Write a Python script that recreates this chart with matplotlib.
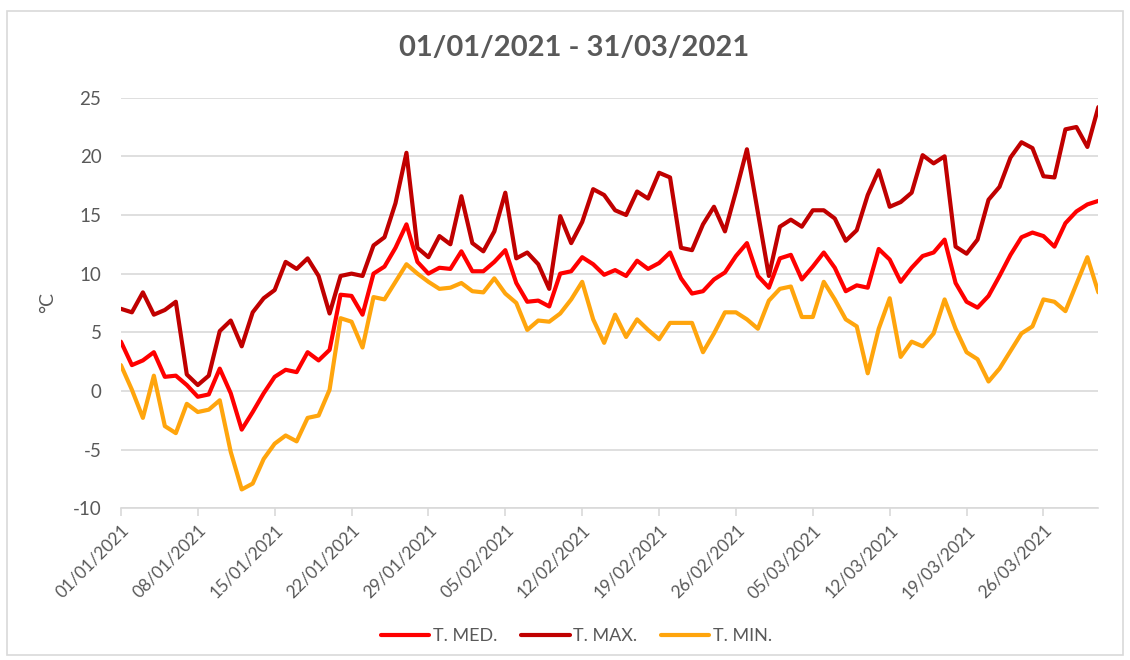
import numpy as np
import pandas as pd
import matplotlib
matplotlib.use("Agg")
import matplotlib.pyplot as plt
import matplotlib.dates as mdates
from matplotlib.patches import Rectangle

# daily temperatures, 01/01/2021 .. 31/03/2021
dates = pd.date_range("2021-01-01", "2021-03-31", freq="D")

t_med = [4.2, 2.2, 2.6, 3.3, 1.2, 1.3, 0.5, -0.5, -0.3, 1.9,
         -0.2, -3.3, -1.8, -0.2, 1.2, 1.8, 1.6, 3.3, 2.6, 3.5,
         8.2, 8.1, 6.5, 10.0, 10.6, 12.2, 14.2, 11.0, 10.0, 10.5,
         10.4, 11.9, 10.2, 10.2, 11.0, 12.0, 9.2, 7.6, 7.7, 7.2,
         10.0, 10.2, 11.4, 10.8, 9.9, 10.3, 9.8, 11.1, 10.4, 10.9,
         11.8, 9.6, 8.3, 8.5, 9.5, 10.1, 11.5, 12.6, 9.8, 8.8,
         11.3, 11.6, 9.5, 10.6, 11.8, 10.5, 8.5, 9.0, 8.8, 12.1,
         11.2, 9.3, 10.5, 11.5, 11.8, 12.9, 9.2, 7.6, 7.1, 8.1,
         9.8, 11.6, 13.1, 13.5, 13.2, 12.3, 14.3, 15.3, 15.9, 16.2]

t_max = [7.0, 6.7, 8.4, 6.5, 6.9, 7.6, 1.4, 0.5, 1.3, 5.1,
         6.0, 3.8, 6.7, 7.9, 8.6, 11.0, 10.4, 11.3, 9.8, 6.6,
         9.8, 10.0, 9.8, 12.4, 13.1, 16.0, 20.3, 12.2, 11.4, 13.2,
         12.5, 16.6, 12.6, 11.9, 13.6, 16.9, 11.3, 11.8, 10.8, 8.7,
         14.9, 12.6, 14.4, 17.2, 16.7, 15.4, 15.0, 17.0, 16.4, 18.6,
         18.2, 12.2, 12.0, 14.2, 15.7, 13.6, 17.0, 20.6, 15.2, 9.8,
         14.0, 14.6, 14.0, 15.4, 15.4, 14.7, 12.8, 13.7, 16.7, 18.8,
         15.7, 16.1, 16.9, 20.1, 19.4, 20.0, 12.3, 11.7, 12.9, 16.3,
         17.4, 19.9, 21.2, 20.7, 18.3, 18.2, 22.3, 22.5, 20.8, 24.2]

t_min = [2.2, 0.1, -2.3, 1.3, -3.0, -3.6, -1.1, -1.8, -1.6, -0.8,
         -5.2, -8.4, -7.9, -5.8, -4.5, -3.8, -4.3, -2.3, -2.1, 0.1,
         6.2, 5.9, 3.7, 8.0, 7.8, 9.3, 10.8, 10.0, 9.3, 8.7,
         8.8, 9.2, 8.5, 8.4, 9.6, 8.3, 7.5, 5.2, 6.0, 5.9,
         6.6, 7.8, 9.3, 6.1, 4.1, 6.5, 4.6, 6.1, 5.2, 4.4,
         5.8, 5.8, 5.8, 3.3, 4.9, 6.7, 6.7, 6.1, 5.3, 7.7,
         8.7, 8.9, 6.3, 6.3, 9.3, 7.8, 6.1, 5.5, 1.5, 5.3,
         7.9, 2.9, 4.2, 3.8, 4.9, 7.8, 5.3, 3.3, 2.7, 0.8,
         1.9, 3.4, 4.9, 5.5, 7.8, 7.6, 6.8, 9.1, 11.4, 8.4]

series = [("T. MED.", t_med, "#ff0000"),
          ("T. MAX.", t_max, "#c00000"),
          ("T. MIN.", t_min, "#ffa50d")]

plt.rcParams['font.family'] = ['Lato', 'DejaVu Sans']
plt.rcParams['axes.unicode_minus'] = False
grey = "#595959"

fig = plt.figure(figsize=(11.3, 6.6), dpi=100)
ax = fig.add_axes([0.107, 0.230, 0.865, 0.622])

for name, vals, col in series:
    ax.plot(dates, vals, color=col, lw=3, label=name,
            solid_joinstyle='round', solid_capstyle='round')

ax.set_xlim(dates[0], dates[-1])
ax.set_ylim(-10, 25)
ax.set_yticks(np.arange(-10, 26, 5))
ax.yaxis.grid(True, color="#d9d9d9", lw=1.2)
ax.set_axisbelow(True)

ax.set_xticks(dates[::7])
ax.xaxis.set_major_formatter(mdates.DateFormatter("%d/%m/%Y"))
plt.setp(ax.get_xticklabels(), rotation=45, ha="right", rotation_mode="anchor")

for s in ["top", "right", "left"]:
    ax.spines[s].set_visible(False)
ax.spines["bottom"].set_color("#d9d9d9")
ax.spines["bottom"].set_linewidth(1.2)
ax.tick_params(axis="x", colors="#d9d9d9", labelcolor=grey, labelsize=12.5,
               length=6, width=1.2, pad=4)
ax.tick_params(axis="y", length=0, labelcolor=grey, labelsize=13.5, pad=14)

ax.set_ylabel("°C", color=grey, fontsize=14, labelpad=12)
fig.text(0.508, 0.927, "01/01/2021 - 31/03/2021", color=grey, fontsize=21,
         fontweight="bold", ha="center", va="center")

ax.legend(loc="center", bbox_to_anchor=(0.466, -0.312), ncol=3,
          frameon=False, fontsize=13, labelcolor=grey, handlelength=2.7,
          columnspacing=1.3, handletextpad=0.2)

# chart frame
fig.patches.append(Rectangle((0.006, 0.007), 0.988, 0.976, transform=fig.transFigure,
                             fill=False, edgecolor="#d9d9d9", lw=1.2))

fig.savefig("out.png", dpi=100)
